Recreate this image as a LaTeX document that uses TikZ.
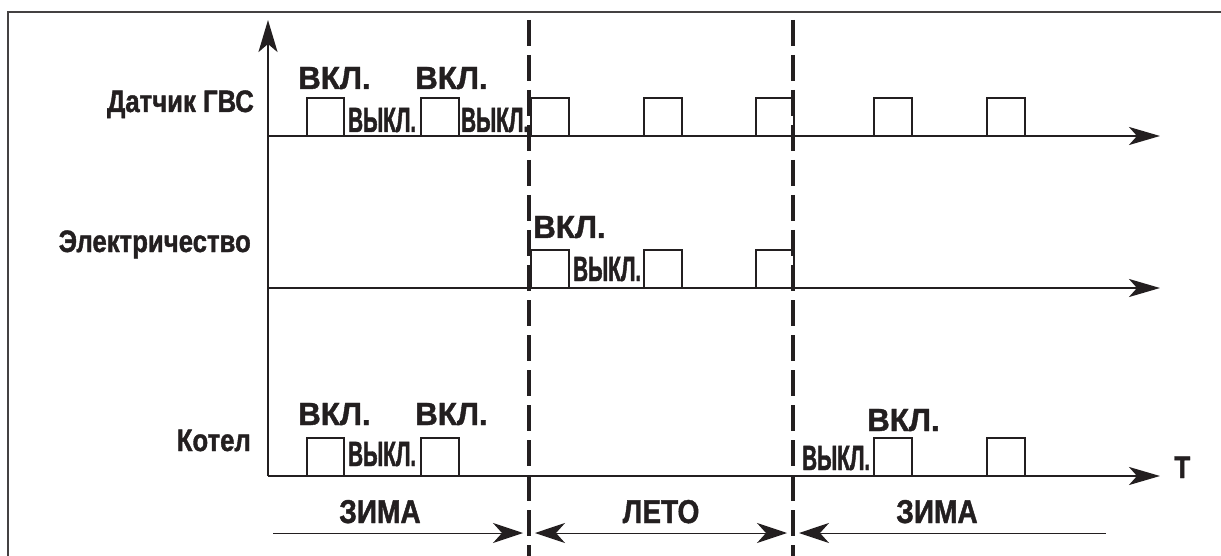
\documentclass[tikz,border=0pt]{standalone}
\usepackage{fontspec}
\setmainfont{Liberation Sans}
\newfontfamily\cond{Liberation Sans}[FakeStretch=0.59,FakeBold=1.3]
\newfontfamily\semi{Liberation Sans}[FakeStretch=0.83,FakeBold=1.3]
\newfontfamily\wide{Liberation Sans}[FakeStretch=0.98,FakeBold=1.3]
\newfontfamily\snarrow{Liberation Sans}[FakeStretch=0.85,FakeBold=1.3]
\usetikzlibrary{arrows.meta}
\definecolor{ink}{HTML}{231F20}
\begin{document}
\begin{tikzpicture}[x=1pt,y=-1pt,
  axis/.style={line width=2.6pt, ink, -{Stealth[length=31pt,width=18pt,inset=8pt]}},
  vaxis/.style={line width=2.6pt, ink, -{Stealth[length=32pt,width=19pt,inset=8pt]}},
  pulse/.style={line width=2pt, ink},
  divider/.style={line width=3.6pt, ink, dash pattern=on 26pt off 9pt},
  season/.style={line width=1pt, ink},
  seasontip/.style={-{Stealth[length=30pt,width=20pt,inset=9pt]}},
  on/.style={font=\wide\fontsize{32}{34}\bfseries\selectfont, anchor=base west, inner sep=0pt, text=ink},
  off/.style={font=\cond\fontsize{35}{37}\bfseries\selectfont, anchor=base west, inner sep=0pt, text=ink},
  rowlab/.style={font=\semi\fontsize{31}{33}\bfseries\selectfont, anchor=base east, inner sep=0pt, text=ink},
  seasonlab/.style={font=\snarrow\fontsize{33}{35}\bfseries\selectfont, anchor=base, inner sep=0pt, text=ink},
  tlab/.style={font=\snarrow\fontsize{31}{33}\bfseries\selectfont, anchor=base west, inner sep=0pt, text=ink}
]
\useasboundingbox (0,0) rectangle (1221,556);
\clip (0,0) rectangle (1221,556);
% frame
\draw[line width=1.5pt, ink!85] (8,12) rectangle (1240,580);

% axis coordinates
\coordinate (o) at (268,476);
\coordinate (vtop) at (268,20);
\coordinate (g0) at (268,136);
\coordinate (g1) at (1160,136);
\coordinate (e0) at (268,288);
\coordinate (e1) at (1160,288);
\coordinate (k0) at (268,476);
\coordinate (k1) at (1160,476);

% pulses: Датчик ГВС
\foreach \a/\b in {307/344,421/459,531/569,644/682,756/794,874/912,987/1025}
  \draw[pulse] (\a,136) -- (\a,98) -- (\b,98) -- (\b,136);
% pulses: Электричество
\foreach \a/\b in {531/569,644/682,756/794}
  \draw[pulse] (\a,288) -- (\a,250) -- (\b,250) -- (\b,288);
% pulses: Котел
\foreach \a/\b in {307/344,421/459,874/912,987/1025}
  \draw[pulse] (\a,476) -- (\a,438) -- (\b,438) -- (\b,476);

% axes
\draw[vaxis] (o) -- (vtop);
\draw[axis] (g0) -- (g1);
\draw[axis] (e0) -- (e1);
\draw[axis] (k0) -- (k1);

% dividers
\coordinate (d1t) at (529,20);
\coordinate (d1b) at (529,570);
\coordinate (d2t) at (793,20);
\coordinate (d2b) at (793,570);
\draw[divider] (d1t) -- (d1b);
\draw[divider] (d2t) -- (d2b);

% row labels
\node[rowlab] (lg) at (254,112) {Датчик ГВС};
\node[rowlab] (le) at (251,252) {Электричество};
\node[rowlab] (lk) at (251,451) {Котел};

% state labels: ГВС
\node[on] (g_on1) at (298,89) {ВКЛ.};
\node[on] (g_on2) at (415,89) {ВКЛ.};
\node[off] (g_off1) at (348,132) {ВЫКЛ.};
\node[off] (g_off2) at (461,132) {ВЫКЛ.};
% Электричество
\node[on] (e_on) at (533,238) {ВКЛ.};
\node[off] (e_off) at (573,281) {ВЫКЛ.};
% Котел
\node[on] (k_on1) at (298,425) {ВКЛ.};
\node[on] (k_on2) at (415,425) {ВКЛ.};
\node[off] (k_off1) at (348,466) {ВЫКЛ.};
\node[off] (k_off2) at (802,470) {ВЫКЛ.};
\node[on] (k_on3) at (867,431) {ВКЛ.};

% T
\node[tlab] (T) at (1174,478) {T};

% seasons
\coordinate (s0) at (273,533);
\coordinate (s1) at (523,533);
\coordinate (s2) at (535,533);
\coordinate (s3) at (787,533);
\coordinate (s4) at (799,533);
\coordinate (s5) at (1106,533);
\draw[season, seasontip] (s0) -- (s1);
\draw[season, {Stealth[length=30pt,width=20pt,inset=9pt]}-{Stealth[length=30pt,width=20pt,inset=9pt]}] (s2) -- (s3);
\draw[season, {Stealth[length=30pt,width=20pt,inset=9pt]}-] (s4) -- (s5);
\node[seasonlab] (w1) at (380,523) {ЗИМА};
\node[seasonlab] (su) at (661,523) {ЛЕТО};
\node[seasonlab] (w2) at (937,523) {ЗИМА};
\end{tikzpicture}
\end{document}
